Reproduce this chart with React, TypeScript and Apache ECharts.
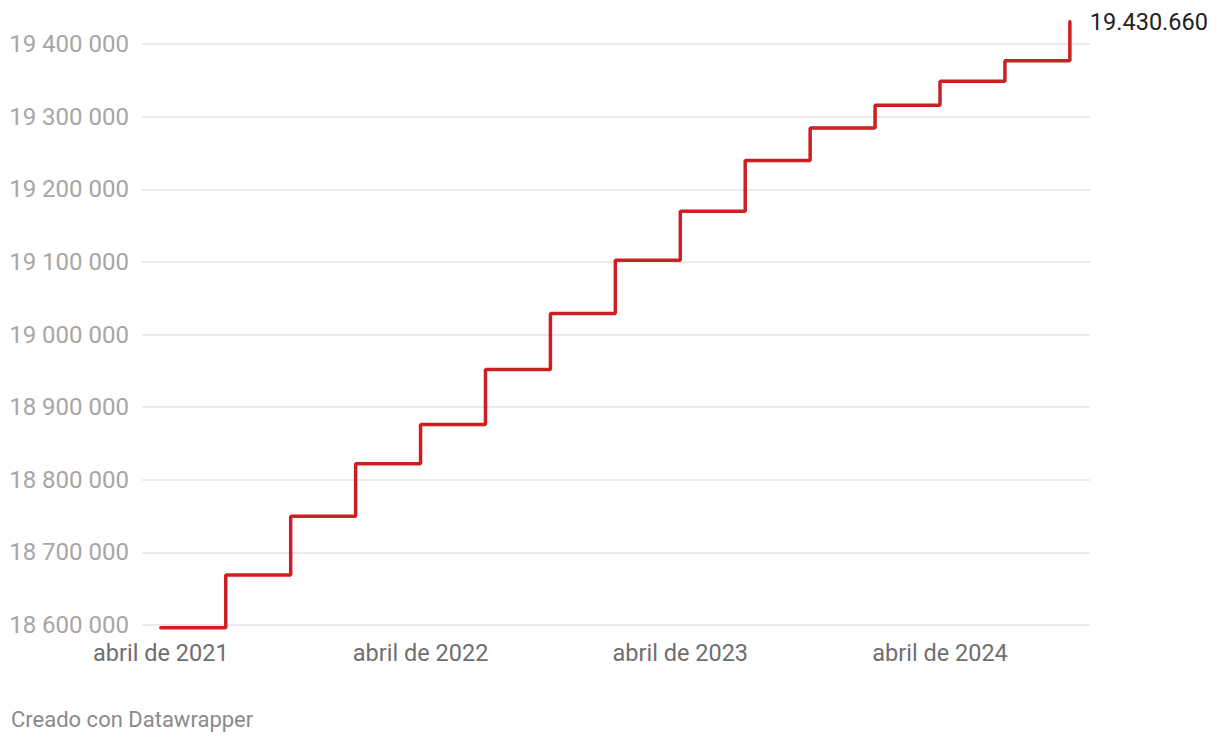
import React, { useEffect, useRef } from "react";
import * as echarts from "echarts";

const quarters = [
  "abril de 2021", "julio de 2021", "octubre de 2021", "enero de 2022",
  "abril de 2022", "julio de 2022", "octubre de 2022", "enero de 2023",
  "abril de 2023", "julio de 2023", "octubre de 2023", "enero de 2024",
  "abril de 2024", "julio de 2024", "octubre de 2024",
];
const population = [
  18596300, 18668800, 18749600, 18822000,
  18876200, 18951900, 19028900, 19102300,
  19169700, 19239500, 19284400, 19315600,
  19348600, 19377100, 19430660,
];
const xLabelIndexes = [0, 4, 8, 12];
const footer = "Creado con Datawrapper";

const fmtSpace = (v: number) => String(Math.round(v)).replace(/\B(?=(\d{3})+(?!\d))/g, " ");
const fmtDot = (v: number) => String(Math.round(v)).replace(/\B(?=(\d{3})+(?!\d))/g, ".");

export default function App() {
  const ref = useRef<HTMLDivElement>(null);
  useEffect(() => {
    document.body.style.margin = "0";
    const chart = echarts.init(ref.current!, null, { renderer: "svg" });
    chart.setOption({
      animation: false,
      textStyle: { fontFamily: "Roboto" },
      grid: { left: 142, right: 130, top: 44, bottom: 119 },
      xAxis: {
        type: "value",
        min: -0.29,
        max: 14.31,
        axisLine: { show: false },
        axisTick: { show: false },
        splitLine: { show: false },
        axisLabel: {
          customValues: xLabelIndexes,
          formatter: (v: number) => quarters[Math.round(v)],
          color: "#6e6e6e",
          fontSize: 23.5,
          margin: 16,
        },
      },
      yAxis: {
        type: "value",
        min: 18600000,
        max: 19400000,
        interval: 100000,
        axisLine: { show: false },
        axisTick: { show: false },
        splitLine: { lineStyle: { color: "#e3e3e3", width: 1.5 } },
        axisLabel: {
          formatter: (v: number) => fmtSpace(v),
          color: "#a6a6a6",
          fontSize: 24,
          margin: 13,
        },
      },
      series: [
        {
          type: "line",
          step: "end",
          clip: false,
          symbol: "none",
          lineStyle: { color: "#cc1f22", width: 3.5, cap: "round" },
          endLabel: {
            show: true,
            distance: 20,
            formatter: (p: any) => fmtDot(p.value[1]),
            color: "#222",
            fontSize: 23.5,
          },
          data: population.map((v, i) => [i, v]),
        },
      ],
      graphic: [
        {
          type: "text",
          left: 11,
          top: 708,
          style: { text: footer, fill: "#8a8a8a", fontSize: 22, fontFamily: "Roboto" },
        },
      ],
    });
    return () => chart.dispose();
  }, []);
  return <div ref={ref} style={{ width: 1220, height: 744 }} />;
}
